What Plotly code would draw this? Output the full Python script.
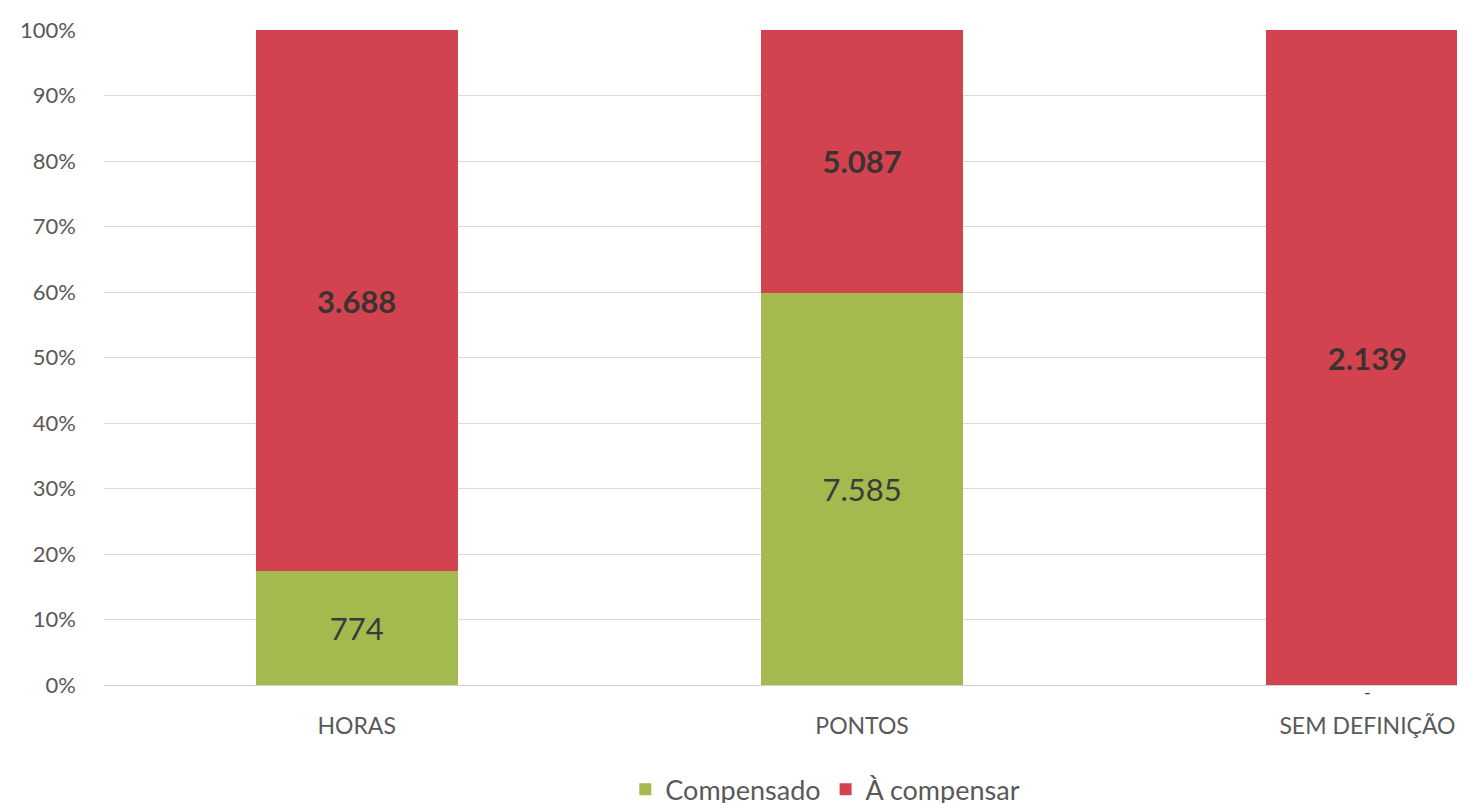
import plotly.graph_objects as go

categories = ["HORAS", "PONTOS", "SEM DEFINIÇÃO"]
compensado = [774, 7585, 0]
a_compensar = [3688, 5087, 2139]
series_names = ["Compensado", "À compensar"]
tick_vals = [0, 10, 20, 30, 40, 50, 60, 70, 80, 90, 100]
tick_text = [f"{v}%" for v in tick_vals]

GREEN = "#a4b94e"
RED = "#d2434f"
FONT = "Lato, 'Open Sans', sans-serif"


def fmt(v):
    return f"{v:,}".replace(",", ".") if v else ""


def fmt_bold(v):
    return f"<b>{fmt(v)}</b>" if v else ""


fig = go.Figure()
fig.add_trace(go.Bar(
    x=categories, y=compensado, name=series_names[0],
    marker=dict(color=GREEN, line=dict(width=0)),
    text=[fmt(v) for v in compensado], textposition="inside",
    insidetextanchor="middle", textangle=0,
    textfont=dict(family=FONT, size=31, color="#3b3b3b"),
    width=0.4,
))
fig.add_trace(go.Bar(
    x=categories, y=a_compensar, name=series_names[1],
    marker=dict(color=RED, line=dict(width=0)),
    text=[fmt_bold(v) for v in a_compensar], textposition="inside",
    insidetextanchor="middle", textangle=0,
    textfont=dict(family=FONT, size=31, color="#3b3232"),
    width=0.4,
))

# zero-value data labels shown as "-"
for c, v in zip(categories, compensado):
    if v == 0:
        fig.add_annotation(x=c, y=0, xref="x", yref="y", text="-",
                           showarrow=False, yanchor="top", yshift=6,
                           font=dict(family=FONT, size=18, color="#3b3b3b"))

# page body has an 8px margin: plot area placed so it lands where the reference has it
fig.update_layout(
    width=1465, height=803,
    barmode="stack", barnorm="percent",
    paper_bgcolor="white", plot_bgcolor="white",
    margin=dict(l=96, r=8, t=22, b=126, autoexpand=False),
    font=dict(family=FONT, color="#595959"),
    uniformtext=dict(mode="show", minsize=10),
    legend=dict(orientation="h", x=0.53, xanchor="center", y=-0.16,
                yanchor="middle", font=dict(family=FONT, size=27, color="#595959"),
                itemwidth=30, traceorder="normal"),
    showlegend=True,
)
fig.update_xaxes(range=[-0.5, 2.193], showgrid=False, showline=False,
                 automargin=False,
                 tickfont=dict(family=FONT, size=23, color="#595959"),
                 ticklabelstandoff=25)
fig.update_yaxes(range=[0, 100], tickvals=tick_vals, ticktext=tick_text,
                 automargin=False,
                 showgrid=True, gridcolor="#d9d9d9", gridwidth=1,
                 zeroline=True, zerolinecolor="#d0d0d0", zerolinewidth=1,
                 showline=False,
                 tickfont=dict(family=FONT, size=22, color="#595959"),
                 ticklabelstandoff=27)

fig.write_html("out.html")
